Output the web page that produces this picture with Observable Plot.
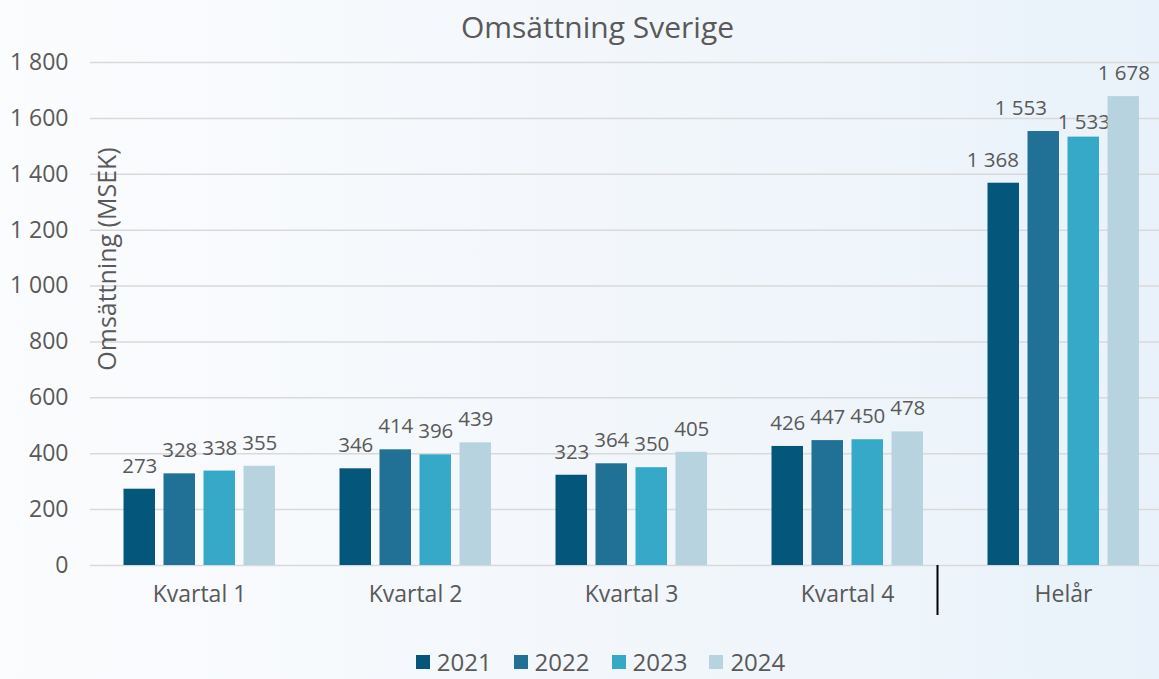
<!DOCTYPE html>
<html>
<head>
<meta charset="utf-8">
<script src="https://cdn.jsdelivr.net/npm/d3@7"></script>
<script src="https://cdn.jsdelivr.net/npm/@observablehq/plot@0.6"></script>
<style>
  html, body { margin: 0; padding: 0; }
  #wrap {
    position: relative; width: 1159px; height: 679px; overflow: hidden;
    background: linear-gradient(90deg, #fbfcfe 0%, #f3f7fb 50%, #e9f2fa 100%);
    font-family: "Open Sans", "Noto Sans", sans-serif; color: #595959;
  }
  #title { height: 50px; line-height: 54px; text-align: center; font-size: 30px; padding-left: 36px; box-sizing: border-box; }
  #chart { height: 580px; }
  #legend { display: flex; justify-content: center; align-items: center; gap: 22px; height: 49px; font-size: 24px; line-height: 1; padding-left: 42px; padding-top: 19px; padding-bottom: 4px; box-sizing: border-box; }
  #legend .item { display: flex; align-items: center; gap: 7px; }
  #legend .sw { width: 14px; height: 14px; display: inline-block; }
</style>
</head>
<body>
<div id="wrap">
  <div id="title">Omsättning Sverige</div>
  <div id="chart"></div>
  <div id="legend"></div>
</div>
<script>
const categories = ["Kvartal 1", "Kvartal 2", "Kvartal 3", "Kvartal 4", "Helår"];
const years = ["2021", "2022", "2023", "2024"];
const v2021 = [273, 346, 323, 426, 1368];
const v2022 = [328, 414, 364, 447, 1553];
const v2023 = [338, 396, 350, 450, 1533];
const v2024 = [355, 439, 405, 478, 1678];
const yTicks = [0, 200, 400, 600, 800, 1000, 1200, 1400, 1600, 1800];
const colors = ["#04567a", "#217196", "#35a9c7", "#b8d3e0"];
const yLabel = "Omsättning (MSEK)";

const series = [v2021, v2022, v2023, v2024];
const fmt = d => d3.format(",")(d).replace(/,/g, " ");

const barW = 32, step = 40, bandW = 216.5, lead = 32.5;
// label nudges for the crowded "Helår" group (as placed in the original)
const helarNudgeX = [-11, -23, 0, 0];
const helarNudgeY = [0, 0, 8, 0];
const marks = [
  Plot.ruleY(yTicks, {stroke: "#d9d9d9", strokeWidth: 1.5})
];
series.forEach((vals, i) => {
  const data = categories.map((c, j) => ({cat: c, value: vals[j], year: years[i]}));
  const left = lead + step * i;
  const cx = -bandW / 2 + left + barW / 2;
  marks.push(Plot.barY(data, {
    x: "cat", y: "value", fill: colors[i],
    insetLeft: left, insetRight: bandW - left - barW
  }));
  marks.push(Plot.text(data.filter(d => d.cat !== "Helår"), {
    x: "cat", y: "value", text: d => fmt(d.value),
    dx: cx, dy: -23, fontSize: 20.5, fill: "#595959"
  }));
  marks.push(Plot.text(data.filter(d => d.cat === "Helår"), {
    x: "cat", y: "value", text: d => fmt(d.value),
    dx: cx + helarNudgeX[i], dy: -23 + helarNudgeY[i], fontSize: 20.5, fill: "#595959"
  }));
});
marks.push(Plot.ruleX(["Kvartal 4"], {x: d => d, dx: 90, stroke: "#000", strokeWidth: 2, insetTop: 503, insetBottom: -50}));
marks.push(Plot.axisY({ticks: yTicks, tickSize: 0, tickPadding: 22, fontSize: 23, fill: "#595959", tickFormat: fmt, label: null}));
marks.push(Plot.axisX({tickSize: 0, tickPadding: 20, fontSize: 23, fill: "#595959", label: null}));
marks.push(Plot.text([yLabel], {frameAnchor: "left", textAnchor: "middle", rotate: -90, dx: 17, dy: -55, fontSize: 25, fill: "#595959"}));

const chart = Plot.plot({
  width: 1159, height: 580,
  marginLeft: 90, marginRight: 0, marginTop: 12, marginBottom: 65,
  style: {background: "transparent", fontFamily: "'Open Sans', 'Noto Sans', sans-serif", overflow: "visible"},
  x: {type: "band", domain: categories, range: [89.5, 1172], padding: 0},
  y: {domain: [0, 1800]},
  marks
});
document.getElementById("chart").appendChild(chart);

const legend = document.getElementById("legend");
years.forEach((y, i) => {
  const item = document.createElement("span");
  item.className = "item";
  const sw = document.createElement("span");
  sw.className = "sw"; sw.style.background = colors[i];
  const t = document.createElement("span");
  t.textContent = y;
  item.appendChild(sw); item.appendChild(t);
  legend.appendChild(item);
});
</script>
</body>
</html>
